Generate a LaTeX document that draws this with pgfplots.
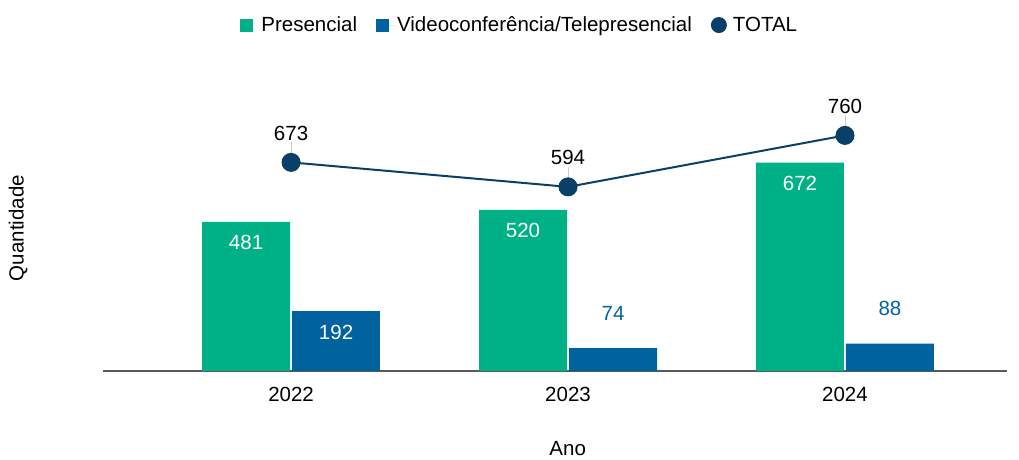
\documentclass[border=0pt]{standalone}
\usepackage{pgfplots}
\pgfplotsset{compat=1.18}
\usepackage{fontspec}
\setmainfont{Liberation Sans}
\definecolor{cgreen}{RGB}{0,176,135}
\definecolor{cblue}{RGB}{0,99,160}
\definecolor{cnavy}{RGB}{10,64,104}
\newcommand{\ff}{\fontsize{20.5}{24}\selectfont}
\begin{document}
\begin{tikzpicture}[font=\ff]
\useasboundingbox (0pt,0pt) rectangle (1019pt,-459pt);
\begin{axis}[
  at={(103pt,-371pt)}, anchor=south west,
  scale only axis, width=904pt, height=310pt,
  xmin=-0.679, xmax=2.585, ymin=0, ymax=1000,
  axis x line*=bottom, axis y line*=left,
  x axis line style={black!65, line width=1.3pt},
  y axis line style={draw=none},
  xtick={0,1,2}, xticklabels={2022,2023,2024},
  major tick length=0pt, ytick=\empty,
  /pgf/number format/assume math mode=true,
  tick label style={font=\ff, text=black},
  xticklabel style={anchor=center, yshift=-23pt},
  xlabel={Ano}, ylabel={Quantidade},
  label style={font=\ff},
  xlabel style={at={(axis description cs:0.514,0)}, anchor=center, yshift=-78pt},
  ylabel style={at={(axis description cs:-0.094,0.461)}, anchor=center},
  legend style={at={(axis description cs:0.461,1.116)}, anchor=center, draw=none, font=\ff,
    legend columns=-1, /tikz/every even column/.append style={column sep=17pt}},
  bar width=88pt,
]
\addplot[ybar, bar shift=-45pt, fill=cgreen, draw=none,
  legend image code/.code={\fill[cgreen] (0pt,-6.5pt) rectangle (13pt,6.5pt); \path[draw=none] (0pt,0pt) -- (19pt,0pt);},
  nodes near coords, nodes near coords style={text=white, anchor=center, xshift=-45pt, yshift=-21pt, font=\ff}]
  coordinates {(0,481) (1,520) (2,672)};
\addlegendentry{Presencial}
\addplot[ybar, bar shift=45pt, fill=cblue, draw=none,
  legend image code/.code={\fill[cblue] (0pt,-6.5pt) rectangle (13pt,6.5pt); \path[draw=none] (0pt,0pt) -- (19pt,0pt);},
  nodes near coords, nodes near coords style={text=white, anchor=center, xshift=45pt, yshift=-21pt, font=\ff}]
  coordinates {(0,192)};
\addlegendentry{Videoconferência/Telepresencial}
\addplot[ybar, bar shift=45pt, fill=cblue, draw=none, forget plot,
  nodes near coords, nodes near coords style={text=cblue, anchor=center, xshift=45pt, yshift=35pt, font=\ff}]
  coordinates {(1,74) (2,88)};
\addplot[draw=none, forget plot, mark=none,
  nodes near coords={\textcolor{black!20}{\rule{0.8pt}{12pt}}},
  nodes near coords style={anchor=south, inner sep=0pt, yshift=8pt}]
  coordinates {(0,673) (1,594) (2,760)};
\addplot[cnavy, line width=2pt, mark=*, mark size=8.5pt, mark options={fill=cnavy, draw=none},
  legend image code/.code={\fill[cnavy,draw=none] (8pt,0pt) circle (8pt); \path[draw=none] (0pt,0pt) -- (20pt,0pt);},
  nodes near coords, nodes near coords style={text=black, anchor=center, yshift=29pt, font=\ff}]
  coordinates {(0,673) (1,594) (2,760)};
\addlegendentry{TOTAL}
\end{axis}
\end{tikzpicture}
\end{document}
